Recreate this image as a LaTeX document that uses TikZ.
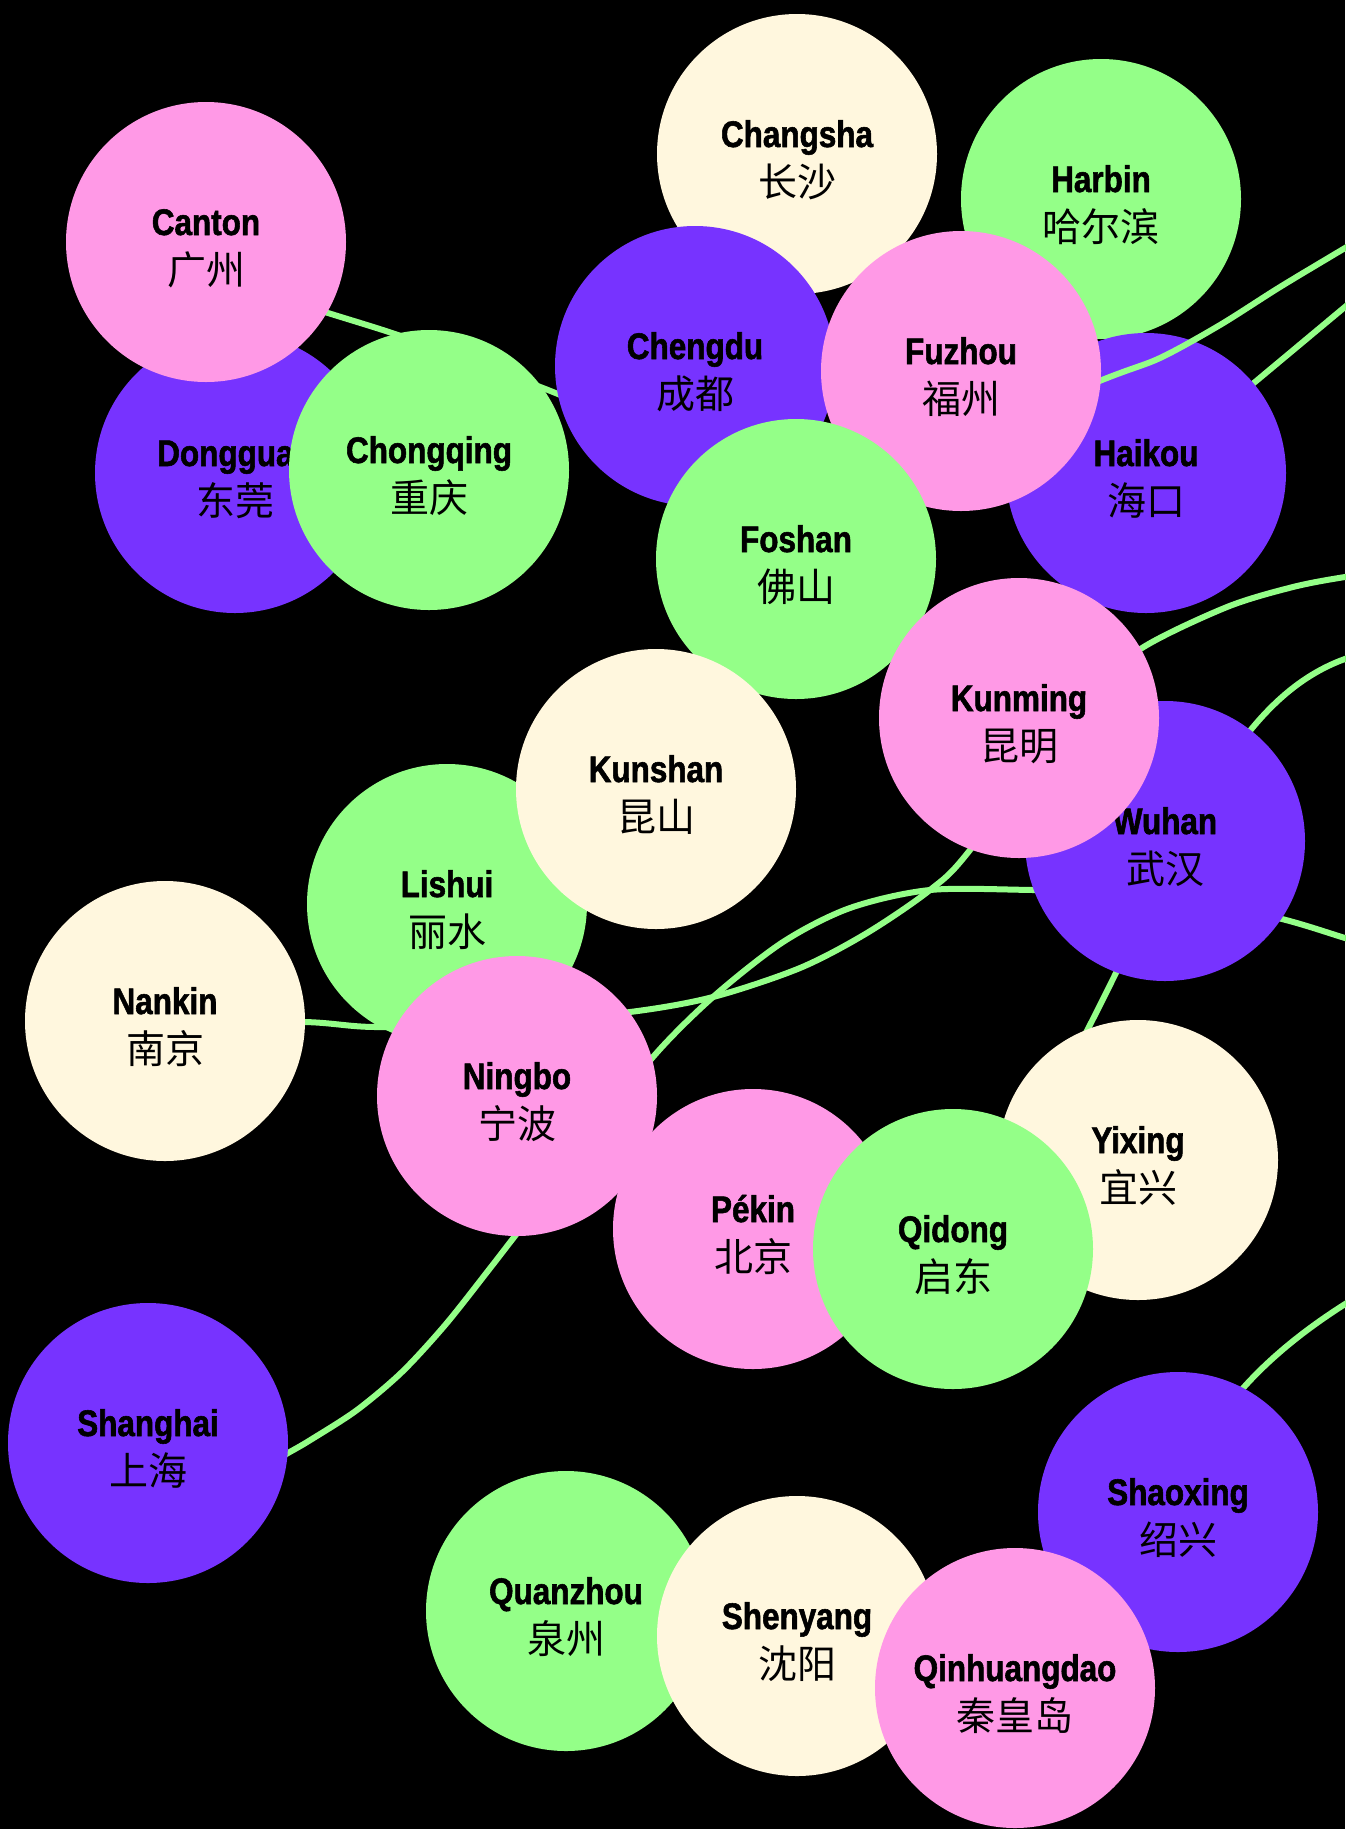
\documentclass[tikz,border=0pt]{standalone}
\usepackage{fontspec}
\newfontfamily\enfont[FakeStretch=0.85,FakeBold=1.5]{Liberation Sans}
\newfontfamily\zhfont{Noto Sans CJK SC}
\definecolor{cpink}{HTML}{FF99E6}
\definecolor{cpurple}{HTML}{7733FF}
\definecolor{cgreen}{HTML}{94FF88}
\definecolor{ccream}{HTML}{FFF7DE}
\pgfdeclarelayer{bg}
\pgfdeclarelayer{lines}
\pgfdeclarelayer{low}
\pgfdeclarelayer{wave}
\pgfsetlayers{bg,lines,low,wave,main}
\tikzset{
  city/.style={circle, minimum size=280pt, inner sep=0pt, draw=none},
  en/.style={text height=28pt, text depth=9pt, yshift=16.5pt, inner sep=0pt, text=black,
    font=\enfont\bfseries\fontsize{37}{37}\selectfont},
  zh/.style={text height=35pt, text depth=5pt, yshift=-27pt, inner sep=0pt, text=black,
    font=\zhfont\fontsize{39}{39}\selectfont},
  link/.style={draw=cgreen, line width=6pt},
}
\newcommand\city[6]{\node[city, fill=#4,
  label={[en, name=#1-en]center:#5},
  label={[zh, name=#1-zh]center:#6}] (#1) at (#2,#3) {};}
\begin{document}
\begin{tikzpicture}[x=1pt,y=-1pt]
\useasboundingbox (0,0) rectangle (1345,1829);
\begin{pgfonlayer}{bg}
\fill[black] (0,0) rectangle (1345,1829);
\end{pgfonlayer}
% right-edge ends of connectors
\coordinate (e1) at (1400,215);
\coordinate (e2) at (1400,261);
\coordinate (e3) at (1400,570);
\coordinate (e4) at (1400,648);
\coordinate (e5) at (1400,955);
\coordinate (e6) at (1400,1272);
% circles lying under the top wave
\begin{pgfonlayer}{low}
\city{changsha}{797}{154}{ccream}{Changsha}{长沙}
\city{harbin}{1101}{199}{cgreen}{Harbin}{哈尔滨}
\city{haikou}{1146}{473}{cpurple}{Haikou}{海口}
\city{dongguan}{235}{473}{cpurple}{Dongguan}{东莞}
\end{pgfonlayer}
% circles on top
\city{canton}{206}{242}{cpink}{Canton}{广州}
\city{chongqing}{429}{470}{cgreen}{Chongqing}{重庆}
\city{chengdu}{695}{366}{cpurple}{Chengdu}{成都}
\city{fuzhou}{961}{371}{cpink}{Fuzhou}{福州}
\city{foshan}{796}{559}{cgreen}{Foshan}{佛山}
\city{wuhan}{1165}{841}{cpurple}{Wuhan}{武汉}
\city{kunming}{1019}{718}{cpink}{Kunming}{昆明}
\city{lishui}{447}{904}{cgreen}{Lishui}{丽水}
\city{kunshan}{656}{789}{ccream}{Kunshan}{昆山}
\city{nankin}{165}{1021}{ccream}{Nankin}{南京}
\city{ningbo}{517}{1096}{cpink}{Ningbo}{宁波}
\city{pekin}{753}{1229}{cpink}{Pékin}{北京}
\city{yixing}{1138}{1160}{ccream}{Yixing}{宜兴}
\city{qidong}{953}{1249}{cgreen}{Qidong}{启东}
\city{shanghai}{148}{1443}{cpurple}{Shanghai}{上海}
\city{quanzhou}{566}{1611}{cgreen}{Quanzhou}{泉州}
\city{shenyang}{797}{1636}{ccream}{Shenyang}{沈阳}
\city{shaoxing}{1178}{1512}{cpurple}{Shaoxing}{绍兴}
\city{qinhuangdao}{1015}{1688}{cpink}{Qinhuangdao}{秦皇岛}
% connectors under every circle
\begin{pgfonlayer}{lines}
\draw[link] plot[smooth, tension=0.5] coordinates {(nankin.center) (305,1022) (375,1027) (500,1024) (630,1012) (713,997) (800,968) (867,933) (930,890) (970,850) (1080,700) (1142,648) (1227,607) (1293,587) (1345,577) (e3)};
\draw[link] plot[smooth, tension=0.5] coordinates {(shanghai.center) (230,1485) (288,1453) (312,1439) (357,1410) (402,1372) (446,1324) (491,1267) (515,1236) (590,1140) (653,1057) (713,997) (783,942) (850,908) (930,890) (1033,890) (1160,893) (1278,918) (1345,938) (e5)};
\draw[link] (haikou.center) -- (e2);
\draw[link] (qidong.center) .. controls (1170,960) and (1190,660) .. (e4);
\draw[link] (shaoxing.center) .. controls (1205,1380) and (1340,1305) .. (e6);
\end{pgfonlayer}
% the top wave, over Haikou but under Fuzhou
\begin{pgfonlayer}{wave}
\draw[link] plot[smooth, tension=0.5] coordinates {(canton.center) (248,288) (328,313) (392,333) (470,360) (548,390) (650,430) (800,470) (930,450) (1102,380) (1160,358) (1220,325) (1280,287) (1345,248) (e1)};
\end{pgfonlayer}
\end{tikzpicture}
\end{document}
